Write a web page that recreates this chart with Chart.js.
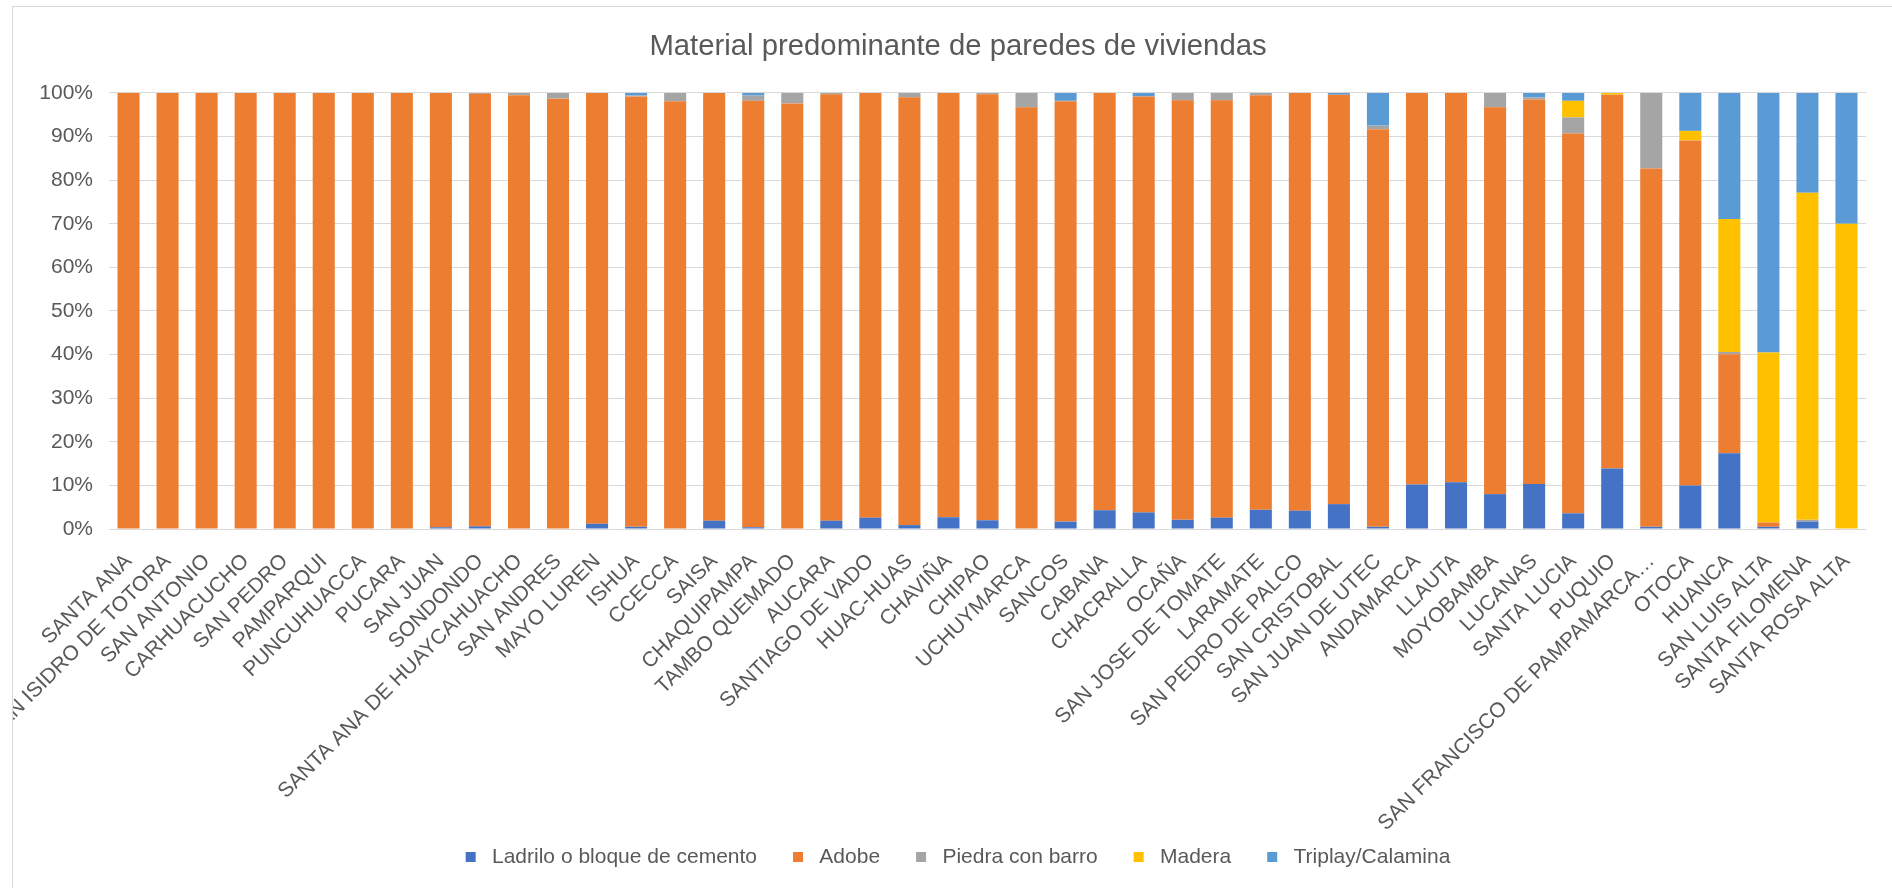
<!DOCTYPE html>
<html>
<head>
<meta charset="utf-8">
<script src="https://cdn.jsdelivr.net/npm/chart.js@4/dist/chart.umd.min.js"></script>
<style>
    body { margin: 0; background: #ffffff; overflow: hidden; }
    #marco {
        position: absolute;
        left: 12px;
        top: 6px;
        width: 1886px;
        height: 881px;
        border: 1px solid #d9d9d9;
        background: #ffffff;
    }
    #grafico { display: block; }
</style>
</head>
<body>
<div id="marco">
    <canvas id="grafico" width="1886" height="881"></canvas>
</div>
<script>
// Distritos (eje X)
const distritos = [
    'SANTA ANA', 'SAN ISIDRO DE TOTORA', 'SAN ANTONIO', 'CARHUACUCHO', 'SAN PEDRO',
    'PAMPARQUI', 'PUNCUHUACCA', 'PUCARA', 'SAN JUAN', 'SONDONDO',
    'SANTA ANA DE HUAYCAHUACHO', 'SAN ANDRES', 'MAYO LUREN', 'ISHUA', 'CCECCA',
    'SAISA', 'CHAQUIPAMPA', 'TAMBO QUEMADO', 'AUCARA', 'SANTIAGO DE VADO',
    'HUAC-HUAS', 'CHAVIÑA', 'CHIPAO', 'UCHUYMARCA', 'SANCOS',
    'CABANA', 'CHACRALLA', 'OCAÑA', 'SAN JOSE DE TOMATE', 'LARAMATE',
    'SAN PEDRO DE PALCO', 'SAN CRISTOBAL', 'SAN JUAN DE UTEC', 'ANDAMARCA', 'LLAUTA',
    'MOYOBAMBA', 'LUCANAS', 'SANTA LUCIA', 'PUQUIO', 'SAN FRANCISCO DE PAMPAMARCA…',
    'OTOCA', 'HUANCA', 'SAN LUIS ALTA', 'SANTA FILOMENA', 'SANTA ROSA ALTA'
];

// Porcentaje de viviendas por material (%)
const ladrillo = [
    0, 0, 0, 0, 0, 0, 0, 0, 0.4, 0.6,
    0, 0, 1.2, 0.5, 0, 1.9, 0.4, 0, 1.9, 2.6,
    0.9, 2.7, 2.0, 0, 1.7, 4.3, 3.8, 2.1, 2.6, 4.4,
    4.2, 5.7, 0.5, 10.2, 10.7, 8.0, 10.3, 3.6, 13.9, 0.5,
    10.0, 17.4, 0.5, 1.7, 0
];
const adobe = [
    100, 100, 100, 100, 100, 100, 100, 100, 99.6, 99.2,
    99.5, 98.7, 98.8, 98.7, 98.1, 98.1, 97.8, 97.6, 97.8, 97.4,
    98.1, 97.3, 97.7, 96.7, 96.4, 95.7, 95.4, 96.2, 95.7, 95.1,
    95.8, 93.9, 91.2, 89.8, 89.3, 88.7, 88.2, 87.1, 85.7, 82.2,
    79.1, 22.7, 1.0, 0, 0
];
const piedra = [
    0, 0, 0, 0, 0, 0, 0, 0, 0, 0.2,
    0.5, 1.3, 0, 0.2, 1.9, 0, 1.2, 2.4, 0.3, 0,
    1.0, 0, 0.3, 3.3, 0.1, 0, 0, 1.7, 1.7, 0.5,
    0, 0, 0.8, 0, 0, 3.3, 0.5, 3.7, 0, 17.3,
    0, 0.5, 0, 0.4, 0
];
const madera = [
    0, 0, 0, 0, 0, 0, 0, 0, 0, 0,
    0, 0, 0, 0, 0, 0, 0, 0, 0, 0,
    0, 0, 0, 0, 0, 0, 0, 0, 0, 0,
    0, 0, 0, 0, 0, 0, 0, 3.8, 0.4, 0,
    2.2, 30.5, 39.0, 75.0, 70.0
];
const triplay = [
    0, 0, 0, 0, 0, 0, 0, 0, 0, 0,
    0, 0, 0, 0.6, 0, 0, 0.6, 0, 0, 0,
    0, 0, 0, 0, 1.8, 0, 0.8, 0, 0, 0,
    0, 0.4, 7.5, 0, 0, 0, 1.0, 1.8, 0, 0,
    8.7, 28.9, 59.5, 22.9, 30.0
];

// Marcas del eje Y
const marcasY = [0, 10, 20, 30, 40, 50, 60, 70, 80, 90, 100];

const series = [
    { nombre: 'Ladrilo o bloque de cemento', datos: ladrillo, color: '#4472C4' },
    { nombre: 'Adobe', datos: adobe, color: '#ED7D31' },
    { nombre: 'Piedra con barro', datos: piedra, color: '#A5A5A5' },
    { nombre: 'Madera', datos: madera, color: '#FFC000' },
    { nombre: 'Triplay/Calamina', datos: triplay, color: '#5B9BD5' }
];

Chart.defaults.font.family = '"Liberation Sans", Arial, sans-serif';
Chart.defaults.color = '#595959';

// Evita que las etiquetas de los ejes se recorten al borde de cada eje
const sinRecorte = {
    id: 'sinRecorte',
    afterLayout(chart) {
        Object.values(chart.scales).forEach(escala => {
            escala._computeLabelArea = () => undefined;
        });
    }
};

const ctx = document.getElementById('grafico').getContext('2d');

new Chart(ctx, {
    type: 'bar',
    data: {
        labels: distritos,
        datasets: series.map(s => ({
            label: s.nombre,
            data: s.datos,
            backgroundColor: s.color,
            borderWidth: 0,
            barPercentage: 0.565,
            categoryPercentage: 1.0
        }))
    },
    plugins: [sinRecorte],
    options: {
        responsive: false,
        devicePixelRatio: 1,
        animation: false,
        events: [],
        layout: {
            // el relleno izquierdo centra título y leyenda sobre el marco
            padding: { left: 37, right: 33, top: 0, bottom: 10.5 }
        },
        plugins: {
            title: {
                display: true,
                text: 'Material predominante de paredes de viviendas',
                color: '#595959',
                font: { size: 29.3, weight: 'normal' },
                padding: { top: 22.3, bottom: 28.5 }
            },
            legend: {
                position: 'bottom',
                labels: {
                    color: '#595959',
                    font: { size: 21 },
                    boxWidth: 10,
                    boxHeight: 10,
                    padding: 36,
                    // un espacio entre el cuadro y el texto
                    generateLabels: chart => Chart.defaults.plugins.legend.labels.generateLabels(chart)
                        .map(item => Object.assign(item, { text: ' ' + item.text }))
                }
            },
            tooltip: { enabled: false }
        },
        scales: {
            x: {
                stacked: true,
                grid: { display: false },
                border: { display: false },
                ticks: {
                    autoSkip: false,
                    maxRotation: 45,
                    minRotation: 45,
                    padding: 12,
                    color: '#595959',
                    font: { size: 21 }
                },
                afterFit: scale => { scale.height = 281.5; }
            },
            y: {
                stacked: true,
                min: 0,
                max: 100,
                afterBuildTicks: scale => {
                    scale.ticks = marcasY.map(v => ({ value: v }));
                },
                grid: { color: '#d9d9d9', lineWidth: 1, drawTicks: false },
                border: { display: false },
                ticks: {
                    padding: 16,
                    color: '#595959',
                    font: { size: 21 },
                    callback: v => v + '%'
                },
                afterFit: scale => { scale.width = 59; }
            }
        }
    }
});
</script>
</body>
</html>
